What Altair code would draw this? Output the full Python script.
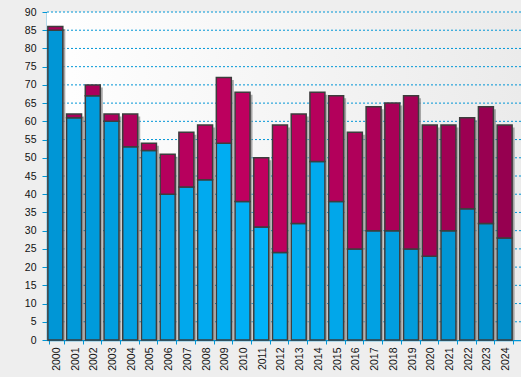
import altair as alt
import pandas as pd

years = list(range(2000, 2025))
blue = [85, 61, 67, 60, 53, 52, 40, 42, 44, 54, 38, 31, 24, 32, 49, 38, 25, 30, 30, 25, 23, 30, 36, 32, 28]
magenta = [1, 1, 3, 2, 9, 2, 11, 15, 15, 18, 30, 19, 35, 30, 19, 29, 32, 34, 35, 42, 36, 29, 25, 32, 31]
y_ticks = list(range(0, 95, 5))

df = pd.DataFrame({"year": years, "blue": blue, "magenta": magenta})
df["total"] = df["blue"] + df["magenta"]
grid_df = pd.DataFrame({"v": y_ticks[1:]})

FONT = "Liberation Sans"
AXIS_BLUE = "#0096d6"
W, H = 474, 328

xscale = alt.Scale(paddingInner=0.2, paddingOuter=0.26, align=0.19)
yscale = alt.Scale(domain=[0, 90], nice=False)

x_axis = alt.Axis(
    labelAngle=270,
    tickBand="extent",
    labelFont=FONT,
    labelFontSize=10.5,
    labelColor="#111111",
    labelPadding=3,
    tickColor=AXIS_BLUE,
    tickSize=4,
    domainColor=AXIS_BLUE,
    domainWidth=1.5,
    grid=False,
)
y_axis = alt.Axis(
    values=y_ticks,
    labelFont=FONT,
    labelFontSize=10.5,
    labelColor="#111111",
    labelPadding=6,
    labelOverlap=False,
    tickColor=AXIS_BLUE,
    tickSize=5,
    domainColor=AXIS_BLUE,
    domainWidth=1.5,
    grid=False,
)

x_enc = alt.X("year:O", scale=xscale, title=None, axis=x_axis)


def y_enc(field):
    return alt.Y(field, scale=yscale, title=None, axis=y_axis)


bg = alt.Chart(alt.Data(values=[{"a": 1}])).mark_rect(
    fill=alt.LinearGradient(
        gradient="linear",
        stops=[
            alt.GradientStop(color="#ffffff", offset=0),
            alt.GradientStop(color="#ebebeb", offset=1),
        ],
        x1=0, x2=1, y1=0, y2=0,
    )
).encode(x=alt.value(0), x2=alt.value(W), y=alt.value(0), y2=alt.value(H))

grid = alt.Chart(grid_df).mark_rule(
    color=AXIS_BLUE, strokeDash=[2, 2], strokeWidth=1
).encode(
    y=y_enc("v:Q"),
    x=alt.value(0),
    x2=alt.value(W),
)

shadow = alt.Chart(df).mark_bar(
    color="#8c8c8c", opacity=0.75, xOffset=1.5, yOffset=2.5, y2Offset=0
).encode(
    x=x_enc,
    y=y_enc("total:Q"),
    y2=alt.Y2(datum=0),
)

blue_bars = alt.Chart(df).mark_bar(
    stroke="#3d3d3d", strokeWidth=1.5, xOffset=-1
).encode(
    x=x_enc,
    y=y_enc("blue:Q"),
    y2=alt.Y2(datum=0),
    color=alt.Color(
        "year:Q",
        scale=alt.Scale(domain=[2000, 2011, 2024], range=["#0096d6", "#00b2f8", "#008ecb"]),
        legend=None,
    ),
)

mag_bars = alt.Chart(df).mark_bar(
    stroke="#3d3d3d", strokeWidth=1.5, xOffset=-1
).encode(
    x=x_enc,
    y=y_enc("total:Q"),
    y2=alt.Y2("blue:Q"),
    color=alt.Color(
        "year:Q",
        scale=alt.Scale(domain=[2000, 2011, 2024], range=["#a8005a", "#c0005f", "#960050"]),
        legend=None,
    ),
)

chart = (
    alt.layer(bg, grid, shadow, blue_bars, mag_bars)
    .resolve_scale(color="independent")
    .properties(
        width=W,
        height=H,
        autosize=alt.AutoSizeParams(type="none"),
        padding={"left": 47, "top": 12, "right": 0, "bottom": 37},
    )
    .configure(background="#eeeeee")
    .configure_view(stroke=None)
)

chart.save("out.html", embed_options={"renderer": "svg", "actions": False})
